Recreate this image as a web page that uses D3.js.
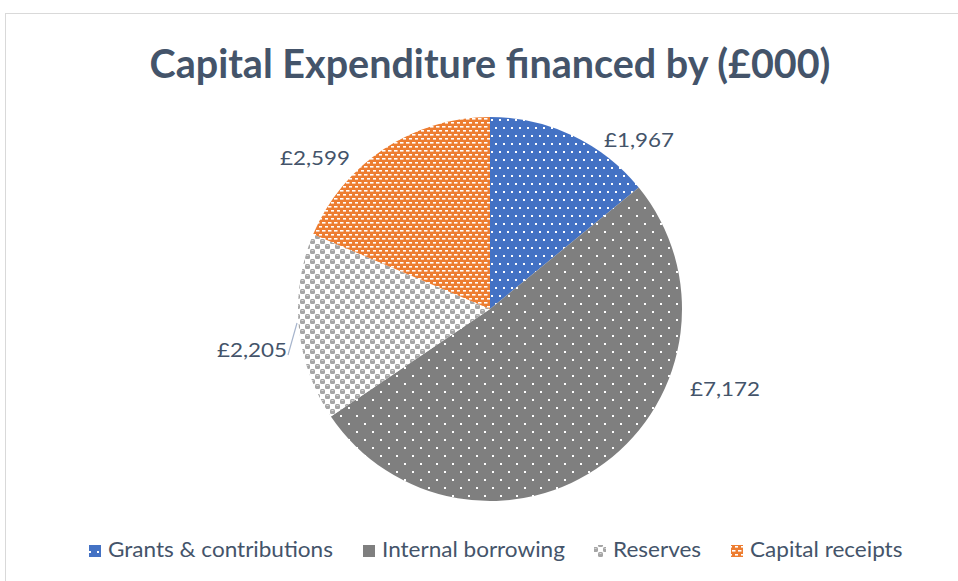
<!DOCTYPE html>
<html>
<head>
<meta charset="utf-8">
<script src="https://cdn.jsdelivr.net/npm/d3@7"></script>
<style>
  body { margin: 0; background: #fff; }
  text { font-family: Lato, "Open Sans", sans-serif; }
</style>
</head>
<body>
<div id="chart"></div>
<script>
const categories = ["Grants & contributions", "Internal borrowing", "Reserves", "Capital receipts"];
const values = [1967, 7172, 2205, 2599];
const valueLabels = ["£1,967", "£7,172", "£2,205", "£2,599"];
const colors = ["#4472C4", "#7F7F7F", "#A5A5A5", "#ED7D31"];
const patternIds = ["pGrants", "pBorrow", "pReserves", "pReceipts"];

const width = 958, height = 581;
const cx = 490, cy = 309, radius = 192;

let svg = d3.select("#chart").append("svg")
    .attr("width", width)
    .attr("height", height);

// frame of the chart area
svg.append("rect")
    .attr("x", 5.5).attr("y", 13.5)
    .attr("width", width).attr("height", height)
    .attr("fill", "#fff")
    .attr("stroke", "#D9D9D9");

let defs = svg.append("defs");

// blue, fine white dots (staggered rows)
let p0 = defs.append("pattern").attr("id", patternIds[0])
    .attr("patternUnits", "userSpaceOnUse").attr("width", 8).attr("height", 16);
p0.append("rect").attr("width", 8).attr("height", 16).attr("fill", colors[0]);
p0.append("rect").attr("x", 1).attr("y", 2).attr("width", 2).attr("height", 2).attr("fill", "#fff");
p0.append("rect").attr("x", 5).attr("y", 10).attr("width", 2).attr("height", 2).attr("fill", "#fff");

// grey, sparse white dots
let p1 = defs.append("pattern").attr("id", patternIds[1])
    .attr("patternUnits", "userSpaceOnUse").attr("width", 16).attr("height", 16);
p1.append("rect").attr("width", 16).attr("height", 16).attr("fill", colors[1]);
p1.append("rect").attr("x", 2).attr("y", 2).attr("width", 2).attr("height", 2).attr("fill", "#fff");
p1.append("rect").attr("x", 10).attr("y", 10).attr("width", 2).attr("height", 2).attr("fill", "#fff");

// light grey checker with small spheres
let p2 = defs.append("pattern").attr("id", patternIds[2])
    .attr("patternUnits", "userSpaceOnUse").attr("width", 10).attr("height", 10);
p2.append("rect").attr("width", 10).attr("height", 10).attr("fill", "#fff");
p2.append("rect").attr("x", 0).attr("y", 0).attr("width", 5).attr("height", 5).attr("rx", 1.5).attr("fill", colors[2]);
p2.append("rect").attr("x", 5).attr("y", 5).attr("width", 5).attr("height", 5).attr("rx", 1.5).attr("fill", colors[2]);
p2.append("rect").attr("x", 1.5).attr("y", 1).attr("width", 2).attr("height", 1).attr("fill", "#D6D6D6");
p2.append("rect").attr("x", 6.5).attr("y", 6).attr("width", 2).attr("height", 1).attr("fill", "#D6D6D6");

// orange, rows of small white dashes
let p3 = defs.append("pattern").attr("id", patternIds[3])
    .attr("patternUnits", "userSpaceOnUse").attr("width", 6).attr("height", 8);
p3.append("rect").attr("width", 6).attr("height", 8).attr("fill", colors[3]);
p3.append("rect").attr("x", 0).attr("y", 1).attr("width", 3.5).attr("height", 1.6).attr("fill", "#fff");
p3.append("rect").attr("x", 3).attr("y", 5).attr("width", 3.5).attr("height", 1.6).attr("fill", "#fff");

// title
svg.append("text")
    .attr("x", cx).attr("y", 78)
    .attr("text-anchor", "middle")
    .attr("font-size", 39.5)
    .attr("font-weight", "bold")
    .attr("fill", "#44546A")
    .text("Capital Expenditure financed by (£000)");

let pie = d3.pie().sort(null)(values);
let arc = d3.arc().innerRadius(0).outerRadius(radius);

let g = svg.append("g").attr("transform", `translate(${cx},${cy})`);
g.selectAll("path")
    .data(pie).enter()
    .append("path")
    .attr("d", arc)
    .attr("fill", (d, i) => `url(#${patternIds[i]})`);

// data labels (outside end)
const labelPos = [[639, 147], [725, 396], [252, 357], [315, 165]];
svg.append("g").selectAll("text")
    .data(valueLabels).enter()
    .append("text")
    .attr("transform", (d, i) => `translate(${labelPos[i][0]},${labelPos[i][1]}) scale(1.12,1)`)
    .attr("text-anchor", "middle")
    .attr("font-size", 20)
    .attr("fill", "#44546A")
    .text(d => d);

// leader line for Reserves label
svg.append("line")
    .attr("x1", 288).attr("y1", 355)
    .attr("x2", 297).attr("y2", 323)
    .attr("stroke", "#A6B4CC")
    .attr("stroke-width", 1.2);

// legend
const legendX = [108, 382, 613, 750];
let leg = svg.append("g").selectAll("g")
    .data(categories).enter()
    .append("g")
    .attr("transform", (d, i) => `translate(${legendX[i]},557)`);
leg.append("rect")
    .attr("x", -19).attr("y", -12)
    .attr("width", 12).attr("height", 12)
    .attr("fill", (d, i) => `url(#${patternIds[i]})`);
leg.append("text")
    .attr("transform", "scale(1.1,1)")
    .attr("font-size", 20.5)
    .attr("fill", "#44546A")
    .text(d => d);
</script>
</body>
</html>
